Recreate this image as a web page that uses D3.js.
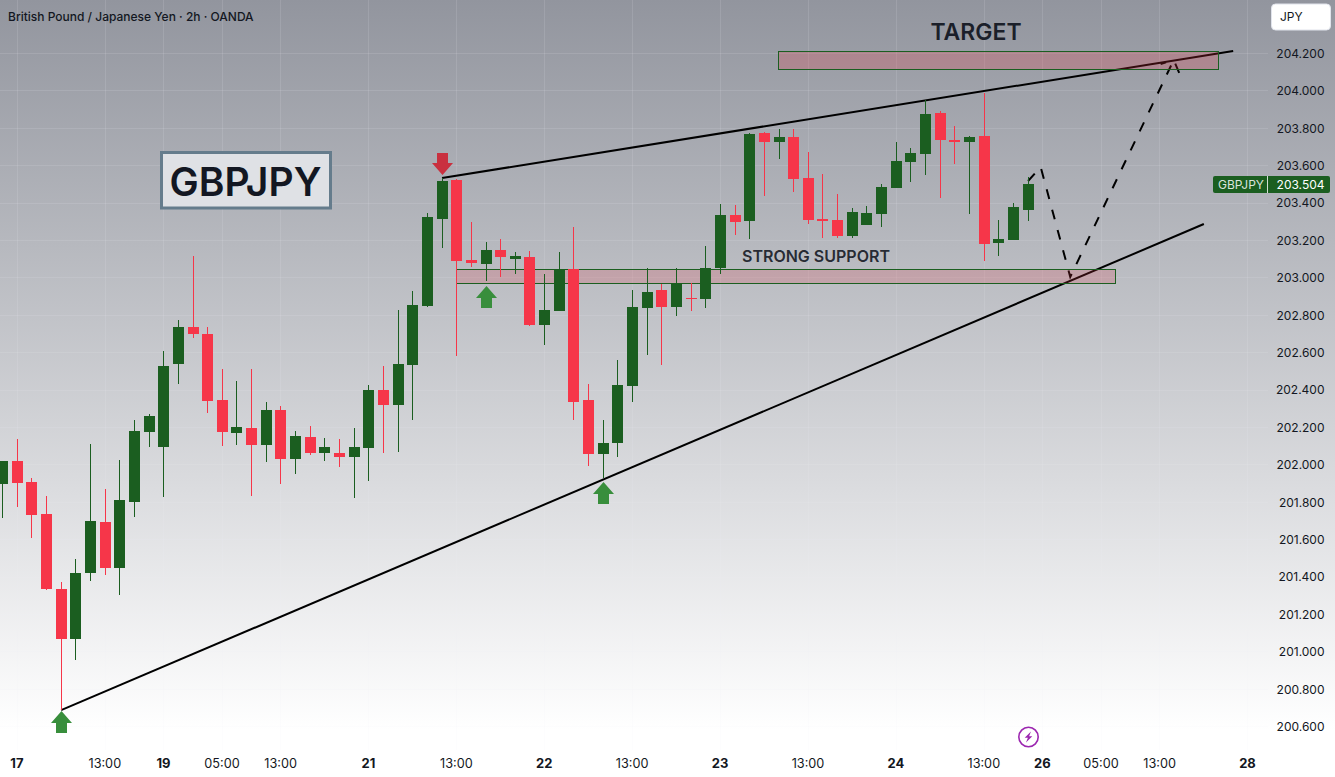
<!DOCTYPE html>
<html><head><meta charset="utf-8">
<style>html,body{margin:0;padding:0;background:#fff;overflow:hidden}svg{display:block}text{font-family:Inter,"Noto Sans",sans-serif}</style>
<script src="https://cdn.jsdelivr.net/npm/d3@7/dist/d3.min.js"></script>
</head><body><svg id="c" width="1335" height="777"></svg>
<script>
const opens=[201.898,202.021,201.909,201.737,201.336,201.069,201.422,201.695,201.449,201.802,202.176,202.096,202.540,202.737,202.700,202.347,202.170,202.197,202.106,202.294,202.031,202.149,202.064,202.064,202.042,202.091,202.400,202.320,202.535,202.850,203.315,203.524,203.096,203.075,203.149,203.101,203.112,202.748,202.823,203.048,202.347,202.059,202.117,202.422,202.839,202.935,202.845,202.892,202.887,203.053,203.336,203.304,203.775,203.727,203.753,203.534,203.315,203.310,203.224,203.283,203.342,203.481,203.620,203.663,203.882,203.737,203.727,203.759,203.187,203.203,203.363];
const highs=[202.021,202.138,201.930,201.834,201.374,201.497,202.112,201.871,202.026,202.240,202.272,202.609,202.775,203.117,202.737,202.513,202.449,202.513,202.336,202.315,202.181,202.208,202.143,202.138,202.197,202.427,202.529,202.828,202.930,203.347,203.534,203.529,203.299,203.192,203.208,203.139,203.144,203.021,203.139,203.272,202.433,202.240,202.561,202.935,203.053,202.967,203.053,202.973,203.171,203.395,203.390,203.775,203.780,203.796,203.796,203.673,203.556,203.449,203.374,203.385,203.502,203.727,203.695,203.951,203.893,203.812,203.759,203.989,203.310,203.401,203.540];
const lows=[201.716,201.775,201.609,201.331,200.689,200.957,201.379,201.411,201.304,201.721,202.096,201.828,202.433,202.679,202.278,202.101,202.106,201.834,202.015,201.898,201.951,202.053,202.021,201.989,201.823,201.914,202.064,202.069,202.240,202.845,203.160,202.582,203.059,202.984,203.005,203.021,202.743,202.641,202.823,202.240,201.994,201.930,202.042,202.336,202.588,202.535,202.796,202.823,202.839,203.021,203.229,203.208,203.438,203.636,203.459,203.288,203.213,203.213,203.213,203.283,203.272,203.481,203.513,203.550,203.427,203.609,203.342,203.090,203.117,203.203,203.304];
const closes=[202.021,201.903,201.732,201.336,201.069,201.422,201.700,201.449,201.812,202.181,202.261,202.529,202.737,202.700,202.342,202.176,202.203,202.106,202.294,202.031,202.154,202.064,202.096,202.042,202.096,202.400,202.320,202.540,202.855,203.326,203.518,203.090,203.080,203.149,203.112,203.117,202.748,202.828,203.048,202.336,202.059,202.117,202.427,202.845,202.925,202.845,202.973,202.887,203.053,203.336,203.299,203.770,203.727,203.753,203.529,203.310,203.304,203.224,203.352,203.347,203.486,203.625,203.668,203.877,203.737,203.727,203.753,203.182,203.208,203.379,203.504];
const priceTicks=[204.2,204.0,203.8,203.6,203.4,203.2,203.0,202.8,202.6,202.4,202.2,202.0,201.8,201.6,201.4,201.2,201.0,200.8,200.6];
const timeTickIndex=[1,7,11,15,19,25,31,37,43,49,55,61,67,71,75,79,85];
const timeTickLabels=["17","13:00","19","05:00","13:00","21","13:00","22","13:00","23","13:00","24","13:00","26","05:00","13:00","28"];
const timeTickBold=[1,0,1,0,0,1,0,1,0,1,0,1,0,1,0,0,1];
const supportLine=[[4,200.689],[82,203.288]];
const resistanceLine=[[30,203.534],[84,204.213]];
const targetZone=[52.95,83,204.212,204.114];
const supportZone=[31,76,203.045,202.970];
const forecastPath=[[70,203.518],[70.86,203.593],[72.88,203.005],[79.94,204.165]];
const forecastHeadA=[[79.94,204.165],[79.05,204.144]];
const forecastHeadB=[[79.94,204.165],[80.35,204.090]];
const upArrows=[[4,200.684],[33,202.957],[41,201.909]];
const downArrows=[[30,203.550]];
const lastPrice=203.504;

const W=1335,H=777;
const GREEN="#1b5e20",RED="#f63649",INK="#131722";
const x=d3.scaleLinear().domain([0,70]).range([2.56,1028.06]);
const y=d3.scaleLinear().domain([204.2,200.6]).range([53.5,726.7]);
const svg=d3.select("#c");
const defs=svg.append("defs");
const g=defs.append("linearGradient").attr("id","bg").attr("x1",0).attr("y1",0).attr("x2",0).attr("y2",1);
g.append("stop").attr("offset","0%").attr("stop-color","#92959e");
g.append("stop").attr("offset","94%").attr("stop-color","#ffffff");
g.append("stop").attr("offset","100%").attr("stop-color","#ffffff");
svg.append("rect").attr("width",W).attr("height",H).attr("fill","url(#bg)");

// grid
const grid=svg.append("g").attr("stroke","#f0f3fa").attr("stroke-opacity",0.13).attr("stroke-width",1).attr("shape-rendering","crispEdges");
grid.selectAll("line.h").data(priceTicks).join("line").attr("x1",0).attr("x2",1268).attr("y1",d=>Math.floor(y(d))+.5).attr("y2",d=>Math.floor(y(d))+.5);
grid.selectAll("line.v").data(timeTickIndex).join("line").attr("y1",0).attr("y2",750).attr("x1",d=>Math.floor(x(d))+.5).attr("x2",d=>Math.floor(x(d))+.5);

// trend lines
const ln=d3.line().x(d=>x(d[0])).y(d=>y(d[1]));
[supportLine,resistanceLine].forEach(l=>svg.append("path").attr("d",ln(l)).attr("fill","none").attr("stroke","#000").attr("stroke-width",2));
const dashed=[{l:forecastPath,dash:"10 11"},{l:forecastHeadA,dash:"0 8 6 20"},{l:forecastHeadB,dash:"0 4 10 20"}];
dashed.forEach(o=>svg.append("path").attr("d",ln(o.l)).attr("fill","none").attr("stroke","#000").attr("stroke-width",2).attr("stroke-dasharray",o.dash));

// zones
const zoneData=[{z:targetZone,fill:"rgba(242,54,69,0.22)"},{z:supportZone,fill:"rgba(225,54,69,0.2)"}];
svg.selectAll("rect.zone").data(zoneData).join("rect").attr("class","zone")
 .attr("x",d=>Math.floor(x(d.z[0]))+.5).attr("width",d=>Math.round(x(d.z[1])-x(d.z[0])))
 .attr("y",d=>Math.floor(y(d.z[2]))+.5).attr("height",d=>Math.round(y(d.z[3])-y(d.z[2])))
 .attr("fill",d=>d.fill).attr("stroke",GREEN).attr("stroke-width",1).attr("shape-rendering","crispEdges");

// candles
const idx=d3.range(opens.length);
const col=i=>closes[i]>=opens[i]?GREEN:RED;
const candles=svg.append("g").attr("shape-rendering","crispEdges");
candles.selectAll("rect.w").data(idx).join("rect").attr("x",i=>Math.floor(x(i))).attr("width",1)
 .attr("y",i=>Math.round(y(highs[i]))).attr("height",i=>Math.round(y(lows[i]))-Math.round(y(highs[i]))).attr("fill",col);
candles.selectAll("rect.b").data(idx).join("rect").attr("x",i=>Math.floor(x(i))-5).attr("width",11)
 .attr("y",i=>Math.round(y(Math.max(opens[i],closes[i]))))
 .attr("height",i=>Math.max(1,Math.round(y(Math.min(opens[i],closes[i])))-Math.round(y(Math.max(opens[i],closes[i])))))
 .attr("fill",col);

// arrows
const arrowShape="M0,0L10.5,12L5.5,12L5.5,22L-5.5,22L-5.5,12L-10.5,12Z";
svg.selectAll("path.up").data(upArrows).join("path").attr("d",arrowShape).attr("fill","#388e3c")
 .attr("transform",d=>`translate(${Math.floor(x(d[0]))+.5},${y(d[1])})`);
svg.selectAll("path.dn").data(downArrows).join("path").attr("d",arrowShape).attr("fill","#c9303f")
 .attr("transform",d=>`translate(${Math.floor(x(d[0]))+.5},${y(d[1])}) scale(1,-1)`);

// annotations
svg.append("rect").attr("x",161.5).attr("y",152.5).attr("width",169).attr("height",55.5).attr("fill","#dfe1e5").attr("stroke","#657c8c").attr("stroke-width",3);
svg.append("text").attr("x",245.5).attr("y",196).attr("text-anchor","middle").attr("font-size",39).attr("font-weight",600).attr("fill",INK).text("GBPJPY");
svg.append("text").attr("x",976).attr("y",40).attr("text-anchor","middle").attr("font-size",23).attr("font-weight",600).attr("fill",INK).attr("fill-opacity",.95).text("TARGET");
svg.append("text").attr("x",816).attr("y",262).attr("text-anchor","middle").attr("font-size",16).attr("font-weight",600).attr("fill",INK).attr("fill-opacity",.9).text("STRONG SUPPORT");
svg.append("text").attr("x",8).attr("y",21).attr("font-size",12).attr("font-weight",500).attr("fill",INK).text("British Pound / Japanese Yen · 2h · OANDA");

// price axis
svg.append("g").selectAll("text").data(priceTicks).join("text").attr("x",1324.5).attr("y",d=>y(d)+4.3)
 .attr("text-anchor","end").attr("font-size",12).attr("fill",INK).text(d=>d.toFixed(3));

// time axis
svg.append("g").selectAll("text").data(timeTickIndex).join("text").attr("x",d=>x(d)-.3).attr("y",768)
 .attr("text-anchor","middle").attr("font-size",(d,i)=>timeTickBold[i]?13:12.7).attr("font-weight",(d,i)=>timeTickBold[i]?700:400)
 .attr("fill",INK).text((d,i)=>timeTickLabels[i]);

// last price tag
const ty=Math.round(y(lastPrice));
svg.append("rect").attr("x",1213).attr("y",ty-8).attr("width",117).attr("height",17).attr("rx",2).attr("fill",GREEN);
svg.append("rect").attr("x",1267).attr("y",ty-8).attr("width",1).attr("height",17).attr("fill","#fff").attr("fill-opacity",.8);
svg.append("text").attr("x",1218).attr("y",ty+4.5).attr("font-size",12).attr("fill","#fff").attr("fill-opacity",.85).text("GBPJPY");
svg.append("text").attr("x",1324.5).attr("y",ty+4.5).attr("text-anchor","end").attr("font-size",12).attr("fill","#fff").text(lastPrice.toFixed(3));

// JPY button
svg.append("rect").attr("x",1271.5).attr("y",4).attr("width",59).attr("height",26).attr("rx",4).attr("fill","#fff").attr("stroke","#e0e3eb");
svg.append("text").attr("x",1280).attr("y",21).attr("font-size",12).attr("fill",INK).text("JPY");

// lightning badge
const badge=svg.append("g").attr("transform","translate(1028.5,737)");
badge.append("circle").attr("r",9.7).attr("fill","none").attr("stroke","#9c27b0").attr("stroke-width",1.6);
badge.append("path").attr("d","M2.5,-5.5L-3.8,0.8L-0.6,0.8L-2.5,5.5L3.8,-0.8L0.6,-0.8Z").attr("fill","#9c27b0");
</script></body></html>
